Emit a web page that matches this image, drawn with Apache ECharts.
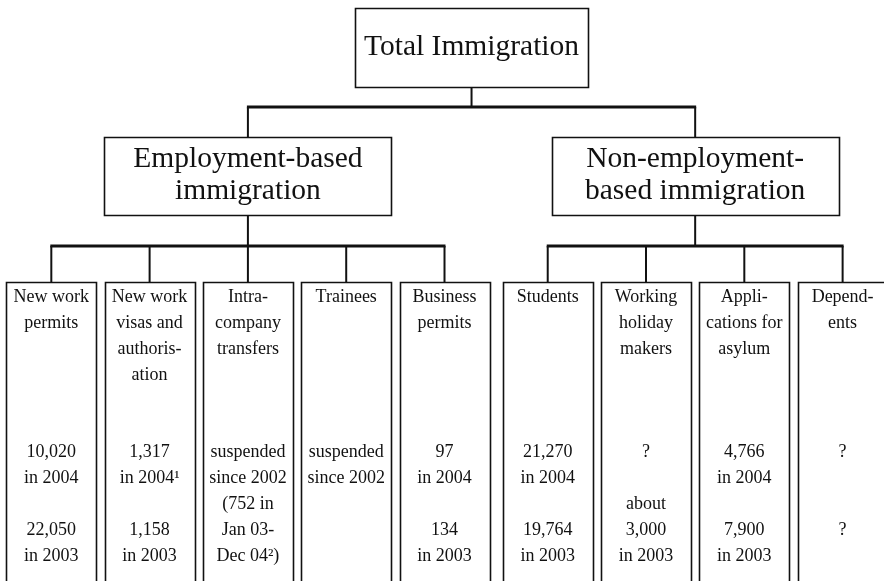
<!DOCTYPE html>
<html><head><meta charset="utf-8">
<script src="https://cdn.jsdelivr.net/npm/echarts@6/dist/echarts.min.js"></script>
<style>html,body{margin:0;padding:0;background:#fff}#c{width:884px;height:581px}</style>
</head><body><div id="c"></div>
<script>
// ---- data ----
const rootTitle = 'Total Immigration';
const groupTitles = ['Employment-based\nimmigration', 'Non-employment-\nbased immigration'];
const leafTitles = [
  'New work\npermits',
  'New work\nvisas and\nauthoris-\nation',
  'Intra-\ncompany\ntransfers',
  'Trainees',
  'Business\npermits',
  'Students',
  'Working\nholiday\nmakers',
  'Appli-\ncations for\nasylum',
  'Depend-\nents'
];
const leafGroup = [0, 0, 0, 0, 0, 1, 1, 1, 1];
const figures2004 = [
  '10,020\nin 2004',
  '1,317\nin 2004\u00b9',
  'suspended\nsince 2002\n(752 in\nJan 03-\nDec 04\u00b2)',
  'suspended\nsince 2002',
  '97\nin 2004',
  '21,270\nin 2004',
  '?',
  '4,766\nin 2004',
  '?'
];
const figures2003 = [
  '22,050\nin 2003',
  '1,158\nin 2003',
  '',
  '',
  '134\nin 2003',
  '19,764\nin 2003',
  'about\n3,000\nin 2003',
  '7,900\nin 2003',
  '?'
];

// ---- tree layout (x in leaf units, through the axis) ----
const GROUP_GAP = 0.05;
const leafX = leafTitles.map((t, i) => i + leafGroup[i] * GROUP_GAP);
const groupX = groupTitles.map((t, g) => {
  const xs = leafX.filter((x, i) => leafGroup[i] === g);
  return (Math.min(...xs) + Math.max(...xs)) / 2;
});
const rootX = (Math.min(...groupX) + Math.max(...groupX)) / 2;

function columnFigures(i) {
  const a = figures2004[i], b = figures2003[i];
  if (!b) return a;
  const na = a.split('\n').length, nb = b.split('\n').length;
  const startRow = Math.min(3, 5 - nb);
  return a + '\n'.repeat(startRow - na + 1) + b;
}

const nodes = [];
nodes.push([rootX, 0, 0]);
groupX.forEach((x, g) => nodes.push([x, 1, g]));
leafX.forEach((x, i) => nodes.push([x, 2, i]));

// ---- styles / sizes ----
const FONT = 'Liberation Serif';
const INK = '#111';
const L = {
  top0: 8, h0: 79, w0: 233,
  bar0: 107,
  top1: 137, h1: 78, w1: 287,
  bar1: 246,
  top2: 282, h2: 320, w2: 90
};

function line(x1, y1, x2, y2, w) {
  return { type: 'line', shape: { x1, y1, x2, y2 }, style: { stroke: INK, lineWidth: w } };
}
function box(cx, top, w, h) {
  return { type: 'rect', shape: { x: Math.round(cx - w / 2) + 0.5, y: top + 0.5, width: w, height: h },
    style: { fill: '#fff', stroke: INK, lineWidth: 1.6 } };
}
function label(text, x, y, size, lh, va) {
  return { type: 'text', style: { text, x, y, fill: INK, fontFamily: FONT, fontSize: size,
    lineHeight: lh, align: 'center', verticalAlign: va } };
}

function renderItem(params, api) {
  const x = api.value(0), level = api.value(1), idx = api.value(2);
  const cx = api.coord([x, 0])[0];
  const px = v => api.coord([v, 0])[0];
  const ch = [];
  if (level === 0) {
    ch.push(line(cx, L.top0 + L.h0, cx, L.bar0, 2));
    ch.push(line(px(groupX[0]) - 1, L.bar0, px(groupX[groupX.length - 1]) + 1, L.bar0, 3));
    groupX.forEach(g => ch.push(line(px(g), L.bar0, px(g), L.top1, 2)));
    ch.push(box(cx, L.top0, L.w0, L.h0));
    ch.push(label(rootTitle, cx, L.top0 + L.h0 / 2, 29.5, 32, 'middle'));
  } else if (level === 1) {
    const kids = leafX.filter((v, i) => leafGroup[i] === idx);
    ch.push(line(cx, L.top1 + L.h1, cx, L.bar1, 2));
    ch.push(line(px(kids[0]) - 1, L.bar1, px(kids[kids.length - 1]) + 1, L.bar1, 3));
    kids.forEach(k => ch.push(line(px(k), L.bar1, px(k), L.top2, 2)));
    ch.push(box(cx, L.top1, L.w1, L.h1));
    ch.push(label(groupTitles[idx], cx, L.top1 + L.h1 / 2 - 1, 29.5, 32, 'middle'));
  } else {
    ch.push(box(cx, L.top2, L.w2, L.h2));
    ch.push(label(leafTitles[idx], cx, L.top2 + 2, 18, 26, 'top'));
    ch.push(label(columnFigures(idx), cx, L.top2 + 157, 18, 26, 'top'));
  }
  return { type: 'group', children: ch };
}

const chart = echarts.init(document.getElementById('c'), null, { renderer: 'canvas' });
chart.setOption({
  animation: false,
  backgroundColor: '#fff',
  grid: { left: 0, right: 0, top: 0, bottom: 0 },
  xAxis: { type: 'value', min: -0.522, max: 8.471, show: false },
  yAxis: { type: 'value', min: 0, max: 2, inverse: true, show: false },
  series: [{
    type: 'custom',
    clip: false,
    renderItem,
    encode: { x: 0, y: 1 },
    data: nodes
  }]
});
</script>
</body></html>
